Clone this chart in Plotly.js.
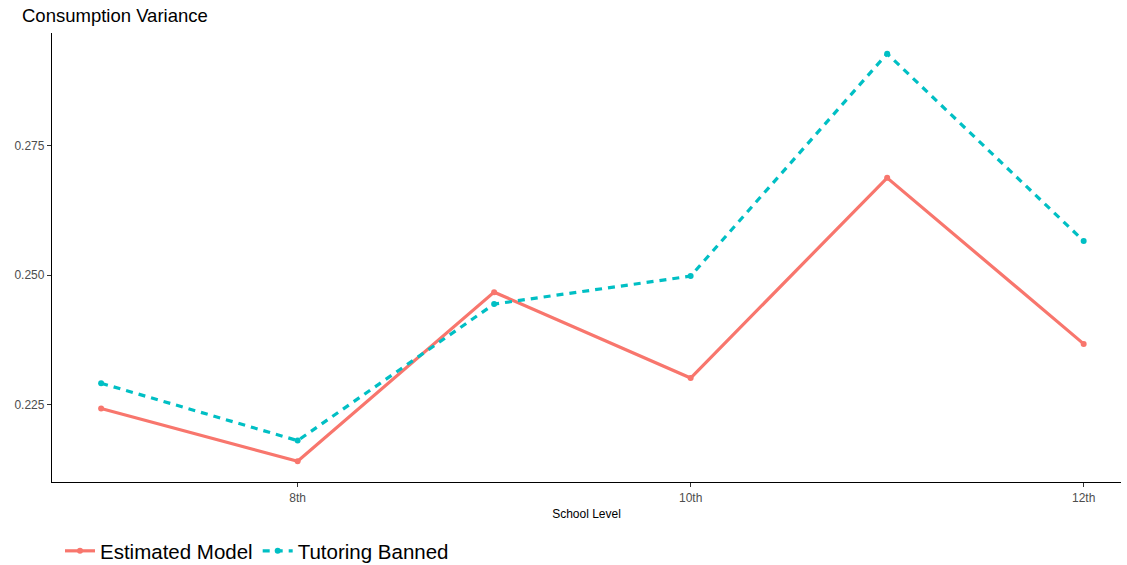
<!DOCTYPE html>
<html>
<head>
<meta charset="utf-8">
<script src="https://cdn.plot.ly/plotly-3.0.1.min.js"></script>
<style>
  body { margin: 0; background: #fff; }
  #chart { width: 1127px; height: 565px; }
</style>
</head>
<body>
<div id="chart"></div>
<script>
// school grades (7th..12th), only even ones get a tick label
var grades = [7, 8, 9, 10, 11, 12];
var tickVals = [8, 10, 12];
var tickText = ['8th', '10th', '12th'];

var estimatedModel = [0.2242, 0.2140, 0.2467, 0.2301, 0.2688, 0.2367];
var tutoringBanned = [0.2291, 0.2180, 0.2444, 0.2498, 0.2928, 0.2566];

var yTicks = [0.225, 0.250, 0.275];

function lineTrace(name, ys, color, dash) {
    return {
        x: grades, y: ys,
        name: name,
        type: 'scatter',
        mode: 'lines+markers',
        line: { color: color, width: 3.2, dash: dash },
        marker: { color: color, size: 6 }
    };
}

var data = [
    lineTrace('Estimated Model', estimatedModel, '#F8766D', 'solid'),
    lineTrace('Tutoring Banned', tutoringBanned, '#00BFC4', '7px,6px')
];

var layout = {
    width: 1127, height: 565,
    paper_bgcolor: '#fff', plot_bgcolor: '#fff',
    margin: { l: 52, r: 6, t: 33, b: 83 },
    font: { family: 'Liberation Sans, Arial, sans-serif', color: '#000' },
    title: {
        text: 'Consumption Variance',
        x: 22 / 1127, xanchor: 'left', xref: 'container',
        y: 1 - 16 / 565, yanchor: 'middle', yref: 'container',
        font: { size: 18.5, color: '#000' }
    },
    xaxis: {
        range: [6.75, 12.19],
        tickvals: tickVals, ticktext: tickText,
        showgrid: false, zeroline: false,
        showline: true, linecolor: '#000', linewidth: 1.3,
        ticks: 'outside', ticklen: 4, tickcolor: '#333', tickwidth: 1,
        tickfont: { size: 12, color: '#4d4d4d' },
        title: { text: 'School Level', font: { size: 12, color: '#000' }, standoff: 6 }
    },
    yaxis: {
        range: [0.210, 0.2968],
        tickvals: yTicks, tickformat: '.3f',
        showgrid: false, zeroline: false,
        showline: true, linecolor: '#000', linewidth: 1.3,
        ticks: 'outside', ticklen: 4, tickcolor: '#333', tickwidth: 1,
        tickfont: { size: 12, color: '#4d4d4d' }
    },
    showlegend: true,
    legend: {
        orientation: 'h',
        x: 60 / 1127, xref: 'container', xanchor: 'left',
        y: 14 / 565, yref: 'container', yanchor: 'middle',
        font: { size: 20.5, color: '#000' },
        itemwidth: 30,
        tracegroupgap: 0
    }
};

Plotly.newPlot('chart', data, layout, { displayModeBar: false });
</script>
</body>
</html>
